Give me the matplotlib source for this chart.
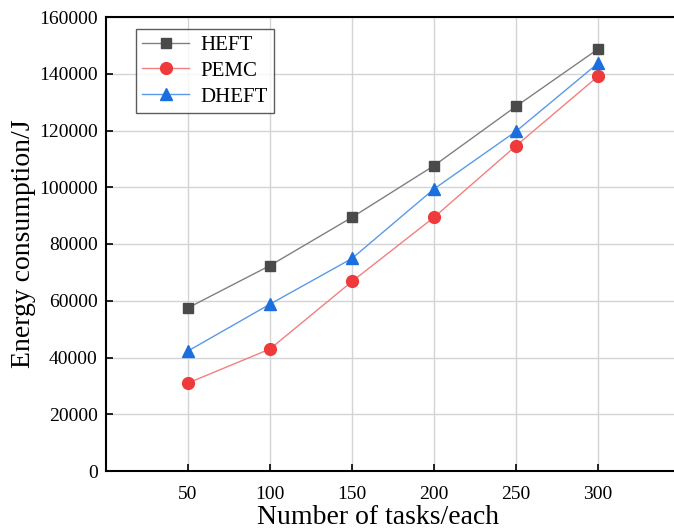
import matplotlib
matplotlib.use("Agg")
import matplotlib.pyplot as plt

tasks = [50, 100, 150, 200, 250, 300]
heft = [57500, 72400, 89400, 107600, 128500, 148700]
pemc = [31000, 43000, 66800, 89400, 114600, 139100]
dheft = [42300, 58800, 74900, 99400, 119700, 143700]
yticks = [0, 20000, 40000, 60000, 80000, 100000, 120000, 140000, 160000]

plt.rcParams['font.family'] = ['Liberation Serif', 'DejaVu Serif']

fig = plt.figure(figsize=(6.74, 5.29), dpi=100)
ax = fig.add_axes([106/674, 58/529, (680-106)/674, 454/529])

ax.plot(tasks, heft, color='#808080', lw=1.0, marker='s', ms=7.5,
        mfc='#4a4a4a', mec='#4a4a4a', label='HEFT')
ax.plot(tasks, pemc, color='#f28080', lw=1.0, marker='o', ms=8.5,
        mfc='#ee3a3a', mec='#ee3a3a', label='PEMC')
ax.plot(tasks, dheft, color='#5a9ae8', lw=1.0, marker='^', ms=9,
        mfc='#1a6fdf', mec='#1a6fdf', label='DHEFT')

ax.set_xlim(0, 350)
ax.set_ylim(0, 160000)
ax.set_xticks(tasks)
ax.set_yticks(yticks)
ax.grid(True, color='#d4d4d4', lw=1.0)
ax.set_axisbelow(True)
ax.tick_params(direction='in', length=5, width=1.2, labelsize=14)
ax.tick_params(axis='y', pad=6)
ax.tick_params(axis='x', pad=11)
for s in ax.spines.values():
    s.set_linewidth(1.5)

ax.set_xlabel('Number of tasks/each', fontsize=20)
ax.xaxis.set_label_coords((378-106)/574, -0.075)
ax.set_ylabel('Energy consumption/J', fontsize=20, labelpad=2)

leg = ax.legend(loc='upper left', bbox_to_anchor=(136/674, 1-29/529),
                bbox_transform=fig.transFigure, borderaxespad=0,
                fontsize=15, frameon=True, fancybox=False, edgecolor='#333333',
                handlelength=2.25, borderpad=0.3, labelspacing=0.3,
                handletextpad=0.55)
leg.get_frame().set_linewidth(1.0)

fig.savefig('out.png', dpi=100)
